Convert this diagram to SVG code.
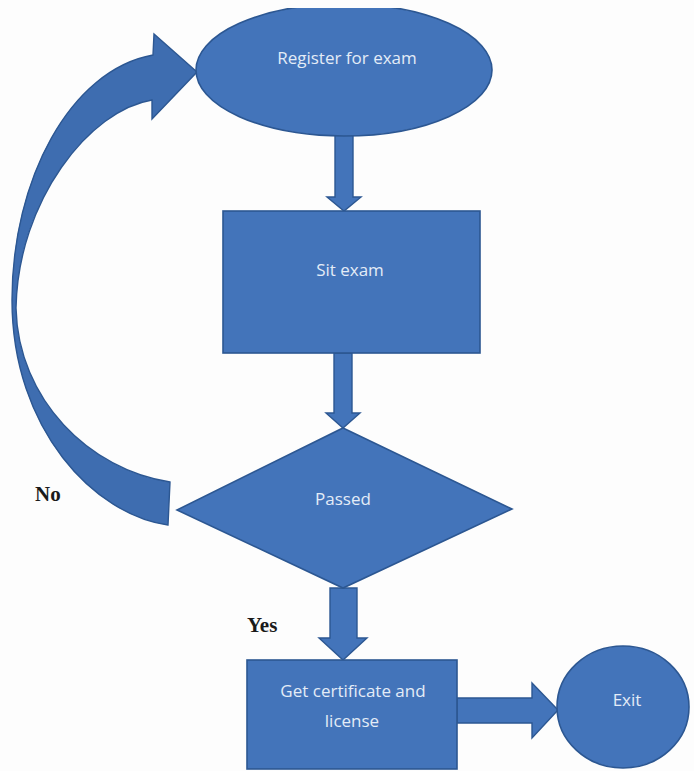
<svg xmlns="http://www.w3.org/2000/svg" width="694" height="771" viewBox="0 0 694 771">
  <style>
    .shape { fill: #4374ba; stroke: #2c5792; stroke-width: 1.6; stroke-linejoin: miter; }
    .conn { fill: #4374ba; stroke: #2c5792; stroke-width: 1.4; stroke-linejoin: miter; }
    .loop { fill: #3e6db0; stroke: #2c5792; stroke-width: 1.4; }
    .label { font-family: "Open Sans", "Liberation Sans", sans-serif; font-size: 17px; fill: #e4ecf7; text-anchor: middle; }
    .branch { font-family: "Liberation Serif", "Times New Roman", serif; font-size: 21px; font-weight: bold; fill: #1a1a1a; }
  </style>
  <defs>
    <clipPath id="topClip">
      <rect x="0" y="8" width="694" height="763"/>
    </clipPath>
  </defs>

  <rect x="0" y="0" width="694" height="771" fill="#fdfdfd"/>

  <!-- connectors -->
  <g id="connectors">
    <!-- register -> sit exam -->
    <path class="conn" d="M335,134 L353,134 L353,197 L361,197 L344,211 L327,197 L335,197 Z"/>
    <!-- sit exam -> passed -->
    <path class="conn" d="M334,353 L352,353 L352,413 L360,413 L343,428 L326,413 L334,413 Z"/>
    <!-- passed -> certificate -->
    <path class="conn" d="M330,588 L357,588 L357,638 L367,638 L343,660 L319,638 L330,638 Z"/>
    <!-- certificate -> exit -->
    <path class="conn" d="M457,698 L532,698 L532,683 L558,710 L532,738 L532,723 L457,723 Z"/>
    <!-- passed (no) -> register, curved return arrow -->
    <path class="loop" d="M168,525 C95,515 12,430 12,300 C12,180 70,70 153,55 L154,34 L197,72 L152,119 L152,100 C90,110 18,200 16,308 C18,400 90,470 170,482 Z"/>
    <text class="branch" x="35" y="501">No</text>
    <text class="branch" x="247" y="632">Yes</text>
  </g>

  <g id="register">
    <ellipse class="shape" cx="344" cy="70" rx="148" ry="66" clip-path="url(#topClip)"/>
    <text class="label" x="347" y="64">Register for exam</text>
  </g>

  <g id="sit-exam">
    <rect class="shape" x="223" y="211" width="257" height="142"/>
    <text class="label" x="350" y="276">Sit exam</text>
  </g>

  <g id="passed">
    <polygon class="shape" points="343,428 512,509 343,588 177,510"/>
    <text class="label" x="343" y="505">Passed</text>
  </g>

  <g id="certificate">
    <rect class="shape" x="247" y="660" width="210" height="109"/>
    <text class="label" x="353" y="697">Get certificate  and</text>
    <text class="label" x="352" y="727">license</text>
  </g>

  <g id="exit">
    <ellipse class="shape" cx="623" cy="707" rx="66" ry="61"/>
    <text class="label" x="627" y="706">Exit</text>
  </g>
</svg>
